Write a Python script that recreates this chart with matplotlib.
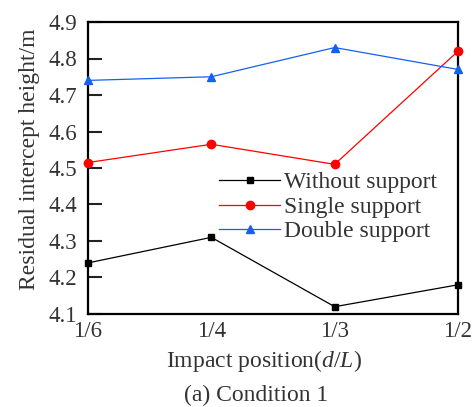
import matplotlib.pyplot as plt

positions = ['1/6', '1/4', '1/3', '1/2']
without_support = [4.24, 4.31, 4.12, 4.18]
single_support = [4.515, 4.565, 4.51, 4.82]
double_support = [4.74, 4.75, 4.83, 4.77]

plt.rcParams['font.family'] = ['Liberation Serif', 'DejaVu Serif']
plt.rcParams['font.size'] = 17
plt.rcParams['mathtext.fontset'] = 'custom'
plt.rcParams['mathtext.it'] = 'Liberation Serif:italic'
plt.rcParams['mathtext.rm'] = 'Liberation Serif'

fig = plt.figure(figsize=(4.74, 4.07), dpi=100)
ax = fig.add_axes([88 / 474, 1 - 314 / 407, 370 / 474, 292 / 407])

x = range(len(positions))
ax.plot(x, without_support, color='black', marker='s', markersize=5, linewidth=0.9,
        label='Without support', clip_on=False, zorder=3)
ax.plot(x, single_support, color='#ff0000', marker='o', markersize=6, linewidth=0.9,
        label='Single support', clip_on=False, zorder=3)
ax.plot(x, double_support, color='#1560f0', marker='^', markersize=6, linewidth=0.9,
        label='Double support', clip_on=False, zorder=3)

ax.set_xlim(0, 3)
ax.set_ylim(4.1, 4.9)
ax.set_xticks(list(x))
ax.set_xticklabels(positions)
ax.set_yticks([4.1, 4.2, 4.3, 4.4, 4.5, 4.6, 4.7, 4.8, 4.9])
ax.tick_params(axis='y', direction='in', length=10, width=1.5, pad=8,
               colors='#222222', labelcolor='#333333', labelsize=16.5)
ax.tick_params(axis='x', length=0, pad=5, labelcolor='#333333', labelsize=16.5)
for s in ax.spines.values():
    s.set_linewidth(1.6)

# axis titles and caption placed by hand like the source figure
fig.text(30 / 474, 1 - 159 / 407, 'Residual intercept height/m', rotation=90,
         ha='center', va='center', color='#333333')
fig.text(264 / 474, 1 - 361 / 407, 'Impact position($d/L$)', ha='center', va='center',
         color='#333333')
fig.text(256 / 474, 1 - 395 / 407, '(a) Condition 1', ha='center', va='center',
         color='#333333')

ax.legend(loc='center left', bbox_to_anchor=((207 - 88) / 370, (314 - 207) / 292),
          frameon=False, handlelength=2.6, handletextpad=0.15, labelspacing=0.12,
          borderpad=0, labelcolor='#333333')

plt.savefig('out.png', dpi=100)
